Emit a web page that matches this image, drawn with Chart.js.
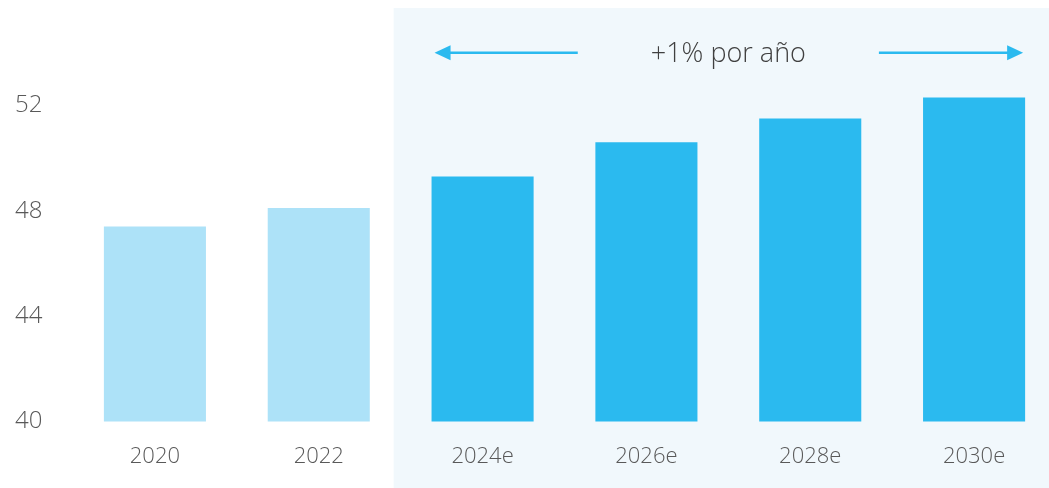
<!DOCTYPE html>
<html>
<head>
<meta charset="utf-8">
<script src="https://cdn.jsdelivr.net/npm/chart.js@4/dist/chart.umd.min.js"></script>
<style>
  html, body { margin: 0; padding: 0; background: #ffffff; overflow: hidden; }
  #wrap { position: relative; width: 1057px; height: 488px; }
</style>
</head>
<body>
<div id="wrap"><canvas id="chart"></canvas></div>
<script>
// Years (an "e" suffix marks an estimate)
const years = ['2020', '2022', '2024e', '2026e', '2028e', '2030e'];
// Values per year
const values = [47.4, 48.1, 49.3, 50.6, 51.5, 52.3];
// Visible y-axis ticks
const yTicks = [40, 44, 48, 52];
// Headline over the estimate period
const growthLabel = '+1% por año';
const growthLevel = 54;

const FONT = '"Open Sans", "Noto Sans", sans-serif';
const ACTUAL = '#ade2f8';
const ESTIMATE = '#2bbaef';
const isEstimate = (i) => /e$/.test(years[i]);
const firstEstimate = years.findIndex((y, i) => isEstimate(i));

// Shaded panel behind the estimate years, plus the arrows and headline above it
const estimatePanel = {
  id: 'estimatePanel',
  beforeDraw(chart) {
    const { ctx, scales: { x } } = chart;
    const left = x.getPixelForValue(firstEstimate - 0.5) - 7;
    ctx.save();
    ctx.fillStyle = '#f1f8fc';
    ctx.fillRect(left, 8, chart.width - left, chart.height - 8);
    ctx.restore();
  },
  afterDatasetsDraw(chart) {
    const { ctx, scales: { y } } = chart;
    const meta = chart.getDatasetMeta(0);
    const last = years.length - 1;
    const b0 = meta.data[firstEstimate], b1 = meta.data[last];
    const xL = b0.x - b0.width / 2 + 3;
    const xR = b1.x + b1.width / 2 - 2;
    const cy = y.getPixelForValue(growthLevel);
    const cx = (b0.x + b1.x) / 2;

    ctx.save();
    ctx.font = '300 27px ' + FONT;
    ctx.fillStyle = '#404040';
    ctx.textAlign = 'center';
    ctx.textBaseline = 'middle';
    ctx.fillText(growthLabel, cx, cy + 2);
    const half = ctx.measureText(growthLabel).width / 2;
    const gap = 73;

    ctx.strokeStyle = ESTIMATE;
    ctx.fillStyle = ESTIMATE;
    ctx.lineWidth = 2.5;
    const head = 16, hh = 7.5;
    // left arrow
    ctx.beginPath();
    ctx.moveTo(cx - half - gap, cy);
    ctx.lineTo(xL + head - 2, cy);
    ctx.stroke();
    ctx.beginPath();
    ctx.moveTo(xL, cy);
    ctx.lineTo(xL + head, cy - hh);
    ctx.lineTo(xL + head, cy + hh);
    ctx.closePath();
    ctx.fill();
    // right arrow
    ctx.beginPath();
    ctx.moveTo(cx + half + gap, cy);
    ctx.lineTo(xR - head + 2, cy);
    ctx.stroke();
    ctx.beginPath();
    ctx.moveTo(xR, cy);
    ctx.lineTo(xR - head, cy - hh);
    ctx.lineTo(xR - head, cy + hh);
    ctx.closePath();
    ctx.fill();
    ctx.restore();
  }
};

new Chart(document.getElementById('chart'), {
  type: 'bar',
  data: {
    labels: years,
    datasets: [{
      data: values,
      backgroundColor: (c) => isEstimate(c.dataIndex) ? ESTIMATE : ACTUAL,
      borderWidth: 0,
      categoryPercentage: 1,
      barPercentage: 0.623
    }]
  },
  options: {
    responsive: true,
    maintainAspectRatio: false,
    animation: false,
    layout: { padding: { left: 15, right: 1, top: 0, bottom: 0 } },
    plugins: { legend: { display: false }, tooltip: { enabled: false } },
    scales: {
      x: {
        grid: { display: false, drawTicks: false },
        border: { display: false },
        afterFit: (s) => {
          s.height = 66.5;
          s.paddingLeft = 0; s.paddingRight = 0;
        },
        ticks: {
          color: '#595959',
          font: { family: FONT, size: 22, weight: '300' },
          padding: 22
        }
      },
      y: {
        min: 40,
        max: 56,
        grid: { display: false, drawTicks: false },
        border: { display: false },
        afterBuildTicks: (axis) => { axis.ticks = yTicks.map(v => ({ value: v })); },
        afterFit: (s) => {
          s.width = 58;
          s.paddingTop = 0; s.paddingBottom = 0;
        },
        ticks: {
          color: '#595959',
          font: { family: FONT, size: 24, weight: '300' },
          crossAlign: 'far',
          padding: 0
        }
      }
    }
  },
  plugins: [estimatePanel]
});
</script>
</body>
</html>
